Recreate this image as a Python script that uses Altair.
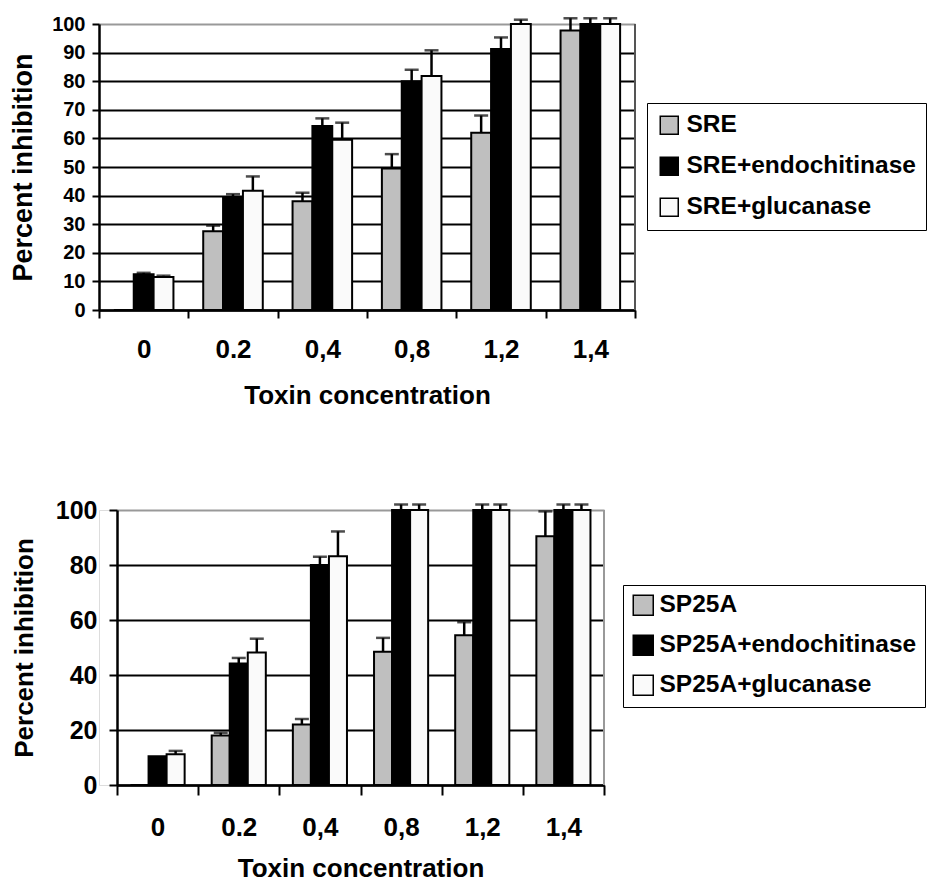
import altair as alt
import pandas as pd

FONT = "Liberation Sans, Arial, Helvetica, sans-serif"

conc = ["0", "0.2", "0,4", "0,8", "1,2", "1,4"]

# Top panel (SRE)
top_names = ["SRE", "SRE+endochitinase", "SRE+glucanase"]
sre = [0, 27.5, 38, 49.5, 62, 97.7]
sre_err = [0, 2, 3, 5, 6, 4.3]
sre_endo = [12.5, 39.5, 64.3, 80, 91.3, 100]
sre_endo_err = [0.5, 1, 2.7, 4, 4, 2]
sre_gluc = [11.5, 41.7, 59.5, 81.8, 100, 100]
sre_gluc_err = [0.5, 5, 6, 9, 1.5, 2]

# Bottom panel (SP25A)
bot_names = ["SP25A", "SP25A+endochitinase", "SP25A+glucanase"]
sp = [0, 18, 22, 48.5, 54.5, 90.5]
sp_err = [0, 1, 2, 5, 4.7, 9]
sp_endo = [10.5, 44.2, 80, 100, 100, 100]
sp_endo_err = [0, 2, 3, 2, 2, 2]
sp_gluc = [11.2, 48.2, 83.2, 100, 100, 100]
sp_gluc_err = [1.2, 5, 9, 2, 2, 2]

colors = ["#bfbfbf", "#000000", "#fafafa"]


def long_df(names, vals, errs):
    rows = []
    for n, v, e in zip(names, vals, errs):
        for c, vv, ee in zip(conc, v, e):
            rows.append({"conc": c, "series": n, "val": vv, "err": ee})
    return pd.DataFrame(rows)


def panel(df, names, W, H, x0, yvals, ytick, ylab_fs, ylab_pad, ytitle_fs, ytitle_pad,
          xtick, xlab_pad, xtitle_pad, lx, ly, lpad, sym, loff, rowpad, lfs, border):
    x = alt.X("conc:N", sort=conc,
              scale=alt.Scale(paddingInner=0, paddingOuter=0, range=[x0, W]),
              axis=alt.Axis(title="Toxin concentration", labelAngle=0, tickBand="extent",
                            domainColor="black", domainWidth=2.5,
                            tickColor="black", tickWidth=2, tickSize=xtick,
                            labelFont=FONT, labelFontSize=26, labelFontWeight="bold",
                            labelColor="black", labelPadding=xlab_pad,
                            titleFont=FONT, titleFontSize=26, titleFontWeight="bold",
                            titleColor="black", titlePadding=xtitle_pad))
    xo = alt.XOffset("series:N", sort=names,
                     scale=alt.Scale(paddingOuter=0.75, paddingInner=0))
    yaxis = alt.Axis(values=yvals, title="Percent inhibition", grid=True,
                     gridColor=alt.condition("datum.value === 100", alt.value("#999999"), alt.value("black")),
                     gridWidth=2, offset=-x0,
                     domainColor="black", domainWidth=2.5,
                     tickColor="black", tickWidth=2, tickSize=ytick,
                     labelFont=FONT, labelFontSize=ylab_fs, labelFontWeight="bold",
                     labelColor="black", labelPadding=ylab_pad,
                     titleFont=FONT, titleFontSize=ytitle_fs, titleFontWeight="bold",
                     titleColor="black", titlePadding=ytitle_pad)
    yscale = alt.Scale(domain=[0, 100], nice=False)

    base = alt.Chart(df).transform_calculate(top="datum.val + datum.err")

    bars = base.mark_bar(stroke="black", strokeWidth=2).encode(
        x=x, xOffset=xo,
        y=alt.Y("val:Q", scale=yscale, axis=yaxis),
        color=alt.Color("series:N", sort=names,
                        scale=alt.Scale(domain=names, range=colors),
                        legend=alt.Legend(orient="none", legendX=lx, legendY=ly, title=None,
                                          symbolType="square", symbolSize=sym * sym,
                                          symbolStrokeColor="black", symbolStrokeWidth=1.5,
                                          symbolOpacity=1, labelLimit=0,
                                          labelFont=FONT, labelFontSize=lfs, labelFontWeight="bold",
                                          labelColor="black", labelOffset=loff,
                                          rowPadding=rowpad, padding=lpad,
                                          strokeColor="black", fillColor="white")),
    )
    err_base = base.transform_filter("datum.err > 0")
    rules = err_base.mark_rule(color="black", strokeWidth=2.5).encode(
        x=x, xOffset=xo,
        y=alt.Y("val:Q", scale=yscale, axis=yaxis),
        y2="top:Q",
    )
    caps = err_base.mark_tick(orient="horizontal", color="black", thickness=2.5, size=14).encode(
        x=x, xOffset=xo,
        y=alt.Y("top:Q", scale=yscale, axis=yaxis),
    )
    edge = alt.Chart(pd.DataFrame({"k": [0]})).mark_rule(color=border, strokeWidth=2).encode(
        x=alt.value(W), y=alt.value(0), y2=alt.value(H))
    return alt.layer(bars, rules, caps, edge).properties(width=W, height=H)


top = panel(long_df(top_names, [sre, sre_endo, sre_gluc], [sre_err, sre_endo_err, sre_gluc_err]),
            top_names, 536, 286, 0, list(range(0, 101, 10)),
            ytick=7, ylab_fs=20, ylab_pad=7, ytitle_fs=27, ytitle_pad=14,
            xtick=8, xlab_pad=18, xtitle_pad=20,
            lx=548, ly=79, lpad=10, sym=18, loff=5, rowpad=15, lfs=24.5, border="#555555")

bot = panel(long_df(bot_names, [sp, sp_endo, sp_gluc], [sp_err, sp_endo_err, sp_gluc_err]),
            bot_names, 505, 275, 18, list(range(0, 101, 20)),
            ytick=8, ylab_fs=25, ylab_pad=12, ytitle_fs=26, ytitle_pad=17.5,
            xtick=10, xlab_pad=19, xtitle_pad=15,
            lx=524, ly=75, lpad=8, sym=20, loff=4, rowpad=13, lfs=24.5, border="#999999")

chart = alt.vconcat(top, bot, spacing=88).resolve_scale(
    color="independent", x="independent", y="independent", xOffset="independent"
).resolve_legend(color="independent").properties(
    padding={"left": 1, "top": 5, "right": 0, "bottom": 0}
).configure_view(stroke=None).configure(background="white")

chart.save("out.html", embed_options={"renderer": "svg", "actions": False})
